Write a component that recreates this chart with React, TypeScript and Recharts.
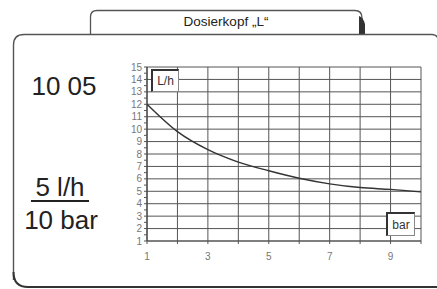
import { LineChart, Line, XAxis, YAxis, CartesianGrid } from "recharts";

// pressure (bar) vs. flow (L/h)
const pressure = [1, 2, 3, 4, 5, 6, 7, 8, 9, 10];
const flow = [12.0, 9.8, 8.35, 7.35, 6.65, 6.05, 5.6, 5.3, 5.15, 4.95];

const xTicks = [1, 2, 3, 4, 5, 6, 7, 8, 9, 10];
const yTicks = [1, 1.5, 2, 2.5, 3, 3.5, 4, 4.5, 5, 5.5, 6, 6.5, 7, 7.5, 8, 8.5, 9, 9.5, 10, 10.5, 11, 11.5, 12, 12.5, 13, 13.5, 14, 14.5, 15];
const yGrid = [1, 2, 3, 4, 5, 6, 7, 8, 9, 10, 11, 12, 13, 14, 15];

const FONT = "'Liberation Sans', Arial, sans-serif";

function UnitBox({ text, left, top, w, h }: { text: string; left: number; top: number; w: number; h: number }) {
  return (
    <div
      style={{
        position: "absolute",
        left,
        top,
        width: w,
        height: h,
        boxSizing: "border-box",
        background: "#fff",
        borderLeft: "2px solid #333",
        borderTop: "2px solid #333",
        borderRight: "1px solid #888",
        borderBottom: "1px solid #888",
        fontFamily: FONT,
        fontSize: 12,
        color: "#333",
        display: "flex",
        alignItems: "center",
        justifyContent: "center",
      }}
    >
      {text}
    </div>
  );
}

export default function App() {
  const data = pressure.map((p, i) => ({ p, q: flow[i] }));
  return (
    <div style={{ position: "absolute", left: 0, top: 0, width: 437, height: 289, background: "#fff", overflow: "hidden" }}>
      <svg width={437} height={289} style={{ position: "absolute", left: 0, top: 0 }}>
        {/* tab */}
        <path d="M90.5,34 L90.5,17 Q90.5,10.5 97,10.5 L355,10.5 Q362,10.5 362,18 L362,34" fill="#fff" stroke="#555" strokeWidth={1.3} />
        <path d="M359,16 Q363,17 365,24 L365,34 L359,34 Z" fill="#333" />
        <text x={226} y={26} textAnchor="middle" fontFamily={FONT} fontSize={13.5} fill="#222">
          Dosierkopf „L“
        </text>
        {/* main frame */}
        <path d="M13.5,280 L13.5,45 Q13.5,34.5 24,34.5 L432,34.5 Q437,34.5 439,40" fill="none" stroke="#555" strokeWidth={1.4} />
        <path d="M13.5,272 Q13.5,287 28,287 L437,287" fill="none" stroke="#333" strokeWidth={2} />
      </svg>

      <div style={{ position: "absolute", left: 0, top: 71, width: 128, textAlign: "center", fontFamily: FONT, fontSize: 26, color: "#222" }}>
        10 05
      </div>
      <div style={{ position: "absolute", left: 0, top: 172, width: 120, textAlign: "center", fontFamily: FONT, fontSize: 26, color: "#222" }}>
        5 l/h
      </div>
      <div style={{ position: "absolute", left: 31, top: 200, width: 58, height: 2, background: "#222" }} />
      <div style={{ position: "absolute", left: 0, top: 205, width: 122, textAlign: "center", fontFamily: FONT, fontSize: 26, color: "#222" }}>
        10 bar
      </div>

      <div style={{ position: "absolute", left: 0, top: 0 }}>
        <LineChart width={437} height={289} data={data} margin={{ top: 67, right: 16, bottom: 18, left: 117 }}>
          <CartesianGrid stroke="#555" strokeWidth={1} horizontalValues={yGrid} verticalValues={xTicks} />
          <XAxis
            dataKey="p"
            type="number"
            domain={[1, 10]}
            ticks={xTicks}
            interval={0}
            height={30}
            tickSize={3}
            tickMargin={9}
            axisLine={{ stroke: "#555" }}
            tickLine={{ stroke: "#555" }}
            tickFormatter={(v: number) => (v % 2 === 1 ? String(v) : "")}
            tick={{ fontSize: 10, fill: "#777", fontFamily: FONT }}
          />
          <YAxis
            type="number"
            domain={[1, 15]}
            ticks={yTicks}
            interval={0}
            width={30}
            tickSize={3}
            axisLine={{ stroke: "#333" }}
            tickLine={{ stroke: "#555" }}
            tickFormatter={(v: number) => (Number.isInteger(v) ? String(v) : "")}
            tick={{ fontSize: 10, fill: "#777", fontFamily: FONT }}
          />
          <Line dataKey="q" type="monotone" stroke="#333" strokeWidth={1.4} dot={false} isAnimationActive={false} />
        </LineChart>
      </div>

      <UnitBox text="L/h" left={151} top={69} w={28} h={23} />
      <UnitBox text="bar" left={386} top={212} w={29} h={24} />
    </div>
  );
}
